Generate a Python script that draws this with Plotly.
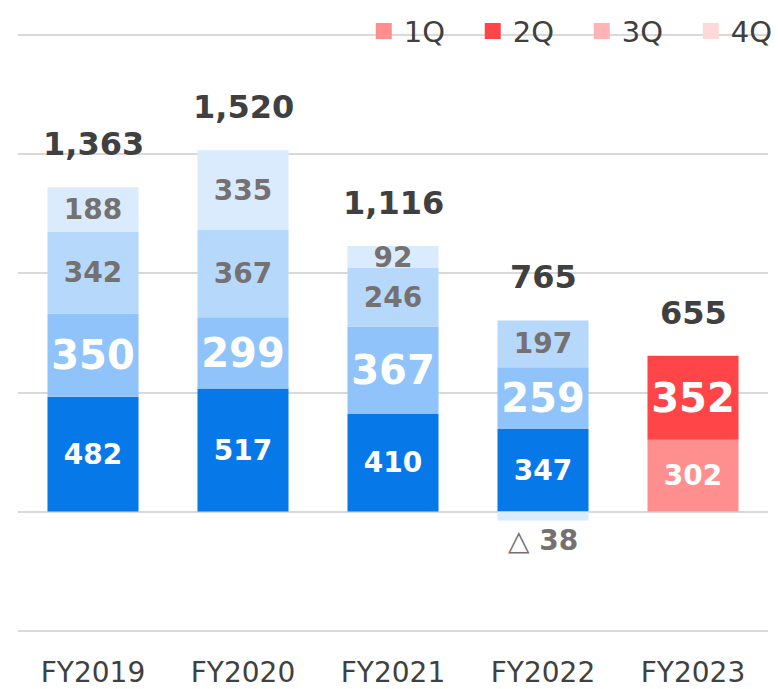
import plotly.graph_objects as go

categories = ["FY2019", "FY2020", "FY2021", "FY2022", "FY2023"]
quarters = ["1Q", "2Q", "3Q", "4Q"]
q1 = [482, 517, 410, 347, 302]
q2 = [350, 299, 367, 259, 352]
q3 = [342, 367, 246, 197, None]
q4 = [188, 335, 92, -38, None]
totals = [1363, 1520, 1116, 765, 655]
total_labels = ["1,363", "1,520", "1,116", "765", "655"]
q4_labels = ["188", "335", "92", "△ 38", ""]

blue = ["#0778E8", "#90C3F9", "#B6D8FB", "#DAEBFD"]
red = ["#FF8F8F", "#FF4547", "#FFB3B4", "#FFD9DA"]

FONT = "Verdana, DejaVu Sans, sans-serif"
GREY = "#767171"
DARK = "#404040"

series = [q1, q2, q3, q4]
text_sizes = [28, 40, 28, 28]
text_colors = ["white", "white", GREY, GREY]

fig = go.Figure()
for i, vals in enumerate(series):
    colors = [red[i] if c == "FY2023" else blue[i] for c in categories]
    if i == 3:
        labels = q4_labels
    else:
        labels = ["" if v is None else str(v) for v in vals]
    positions = ["outside" if (v is not None and v < 0) else "inside" for v in vals]
    fig.add_trace(go.Bar(
        x=categories, y=vals, name=quarters[i], showlegend=False,
        marker=dict(color=colors, line=dict(width=0)),
        text=labels, textposition=positions, insidetextanchor="middle",
        constraintext="none", cliponaxis=False,
        textfont=dict(family=FONT, size=text_sizes[i], color=text_colors[i], weight="bold"),
        hoverinfo="skip",
    ))

# legend entries (red shades, as in the original)
for i, q in enumerate(quarters):
    fig.add_trace(go.Scatter(
        x=[None], y=[None], mode="markers", name=q,
        marker=dict(symbol="square", size=16, color=red[i]),
        legendwidth=40 if i == 3 else None,
    ))

# total labels above positive stacks
pos_tops = []
for j in range(len(categories)):
    s = 0
    for vals in series:
        v = vals[j]
        if v is not None and v > 0:
            s += v
    pos_tops.append(s)

for c, top, lab in zip(categories, pos_tops, total_labels):
    fig.add_annotation(x=c, y=top, text=lab, showarrow=False, yanchor="bottom",
                       yshift=22, font=dict(family=FONT, size=32, color=DARK, weight="bold"))

fig.update_layout(
    width=778, height=689,
    margin=dict(l=18, r=10, t=33, b=56, autoexpand=False),
    barmode="relative", bargap=0.393,
    plot_bgcolor="white", paper_bgcolor="white",
    font=dict(family=FONT, color=DARK),
    legend=dict(orientation="h", x=0.461, xanchor="left", y=1.003, yanchor="middle",
                bgcolor="rgba(0,0,0,0)", font=dict(size=29, color=DARK),
                itemsizing="trace", entrywidth=64, traceorder="normal"),
    xaxis=dict(showgrid=False, showline=False, ticks="", automargin=False,
               tickfont=dict(size=28, color=DARK, family=FONT), ticklabelstandoff=20),
    yaxis=dict(range=[-510, 2010], tickvals=[-500, 0, 500, 1000, 1500, 2000],
               showticklabels=False, showgrid=True, gridcolor="#D9D9D9", gridwidth=2,
               zeroline=False, showline=False, automargin=False),
)

fig.write_html("out.html")
